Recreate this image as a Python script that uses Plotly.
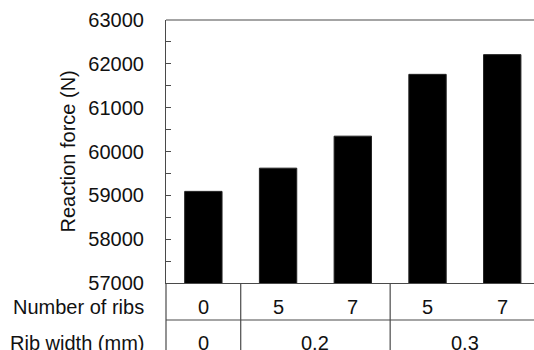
import plotly.graph_objects as go

# Reaction force for each rib configuration
number_of_ribs = ["0", "5", "7", "5", "7"]
rib_width = ["0", "0.2", "0.2", "0.3", "0.3"]
reaction_force = [59090, 59620, 60350, 61760, 62210]

y_ticks = [57000, 58000, 59000, 60000, 61000, 62000, 63000]

positions = list(range(len(reaction_force)))
line_col = "#4a4a4a"
font = dict(family="Liberation Sans, Arial, sans-serif", size=20, color="#111")

fig = go.Figure(
    go.Bar(
        x=positions,
        y=reaction_force,
        width=0.5,
        marker=dict(color="black", line=dict(color="#222", width=1)),
    )
)

# group consecutive identical rib widths into spans
groups = []
start = 0
for i in range(1, len(rib_width) + 1):
    if i == len(rib_width) or rib_width[i] != rib_width[start]:
        groups.append((start, i - 1, rib_width[start]))
        start = i

shapes = []
annotations = []
row1_bottom = -0.1407
row1_mid = -0.093
row2_mid = -0.229
bottom = -0.3

# left border continues through the table
shapes.append(dict(type="line", xref="paper", yref="paper", x0=0, x1=0, y0=bottom, y1=0,
                   line=dict(color=line_col, width=1.2)))
# horizontal separator between the two table rows
shapes.append(dict(type="line", xref="paper", yref="paper", x0=0, x1=1, y0=row1_bottom, y1=row1_bottom,
                   line=dict(color=line_col, width=1.2)))
# top border
shapes.append(dict(type="line", xref="paper", yref="paper", x0=0, x1=1, y0=1, y1=1,
                   line=dict(color=line_col, width=1.2)))

for g0, g1, w in groups:
    if g0 > 0:
        shapes.append(dict(type="line", xref="x", yref="paper", x0=g0 - 0.5, x1=g0 - 0.5,
                           y0=bottom, y1=0, line=dict(color=line_col, width=1.2)))
    annotations.append(dict(x=(g0 + g1) / 2, y=row2_mid, xref="x", yref="paper", text=w,
                            showarrow=False, font=font, yanchor="middle"))

for p, n in zip(positions, number_of_ribs):
    annotations.append(dict(x=p, y=row1_mid, xref="x", yref="paper", text=n,
                            showarrow=False, font=font, yanchor="middle"))

annotations.append(dict(x=-0.054, y=row1_mid, xref="paper", yref="paper", text="Number of ribs",
                        showarrow=False, font=font, xanchor="right", yanchor="middle"))
annotations.append(dict(x=-0.054, y=row2_mid, xref="paper", yref="paper", text="Rib width (mm)",
                        showarrow=False, font=font, xanchor="right", yanchor="middle"))
annotations.append(dict(x=-0.269, y=0.5, xref="paper", yref="paper", text="Reaction force (N)",
                        showarrow=False, font=font, textangle=-90, xanchor="center", yanchor="middle"))

fig.update_layout(
    width=534,
    height=350,
    margin=dict(l=166, r=0, t=20, b=67),
    paper_bgcolor="white",
    plot_bgcolor="white",
    showlegend=False,
    shapes=shapes,
    annotations=annotations,
    font=font,
    xaxis=dict(
        range=[-0.5, 4.425],
        showticklabels=False,
        ticks="",
        showgrid=False,
        zeroline=False,
        showline=True,
        linecolor=line_col,
        linewidth=1.2,
    ),
    yaxis=dict(
        range=[57000, 63000],
        tickvals=y_ticks,
        ticktext=[str(v) for v in y_ticks],
        ticks="inside",
        ticklen=5,
        tickwidth=1.2,
        tickcolor=line_col,
        minor=dict(dtick=500, tick0=57000, ticks="inside", ticklen=5, tickwidth=1.2,
                   tickcolor=line_col, showgrid=False),
        ticklabelstandoff=17,
        showgrid=False,
        zeroline=False,
        showline=True,
        linecolor=line_col,
        linewidth=1.2,
        tickfont=font,
    ),
)

fig.write_html("out.html")
